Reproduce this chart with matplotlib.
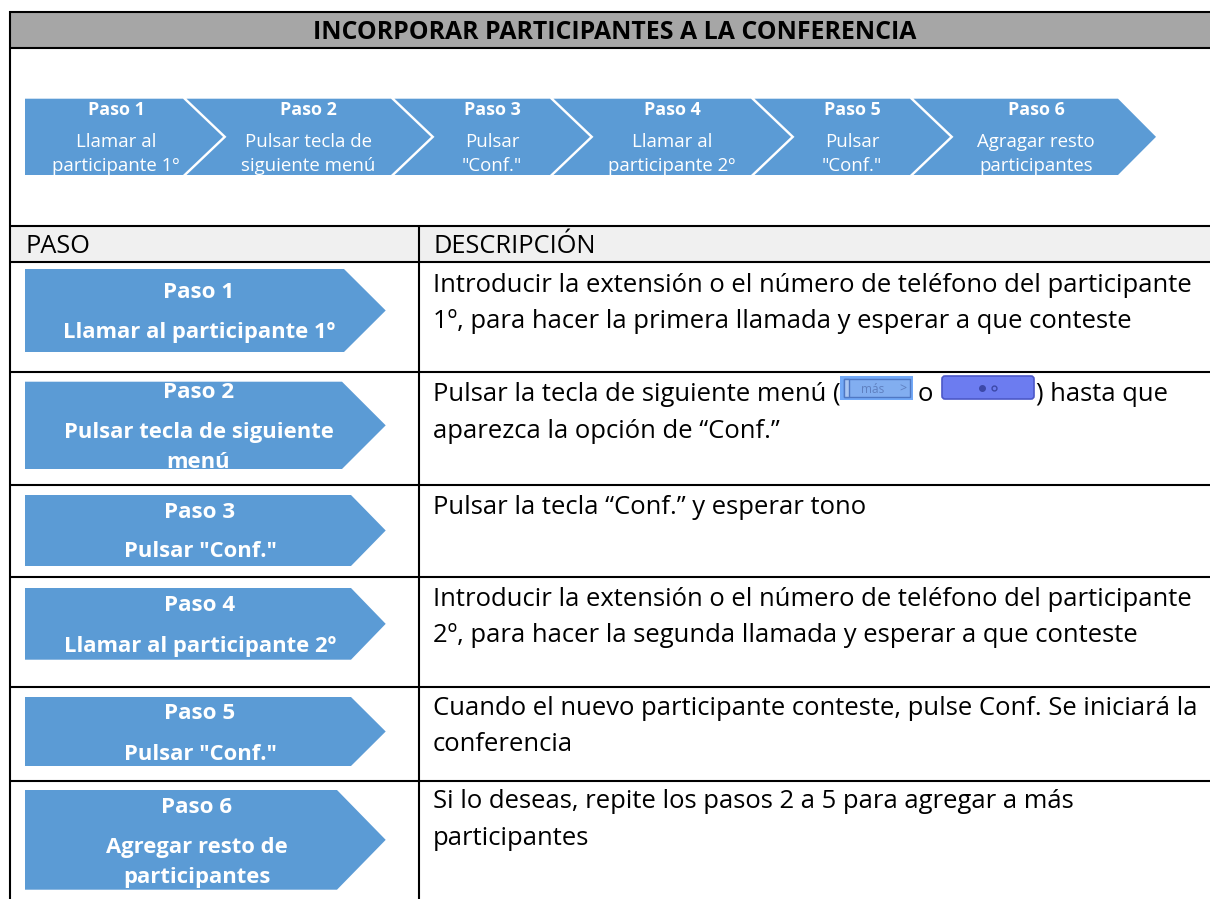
import matplotlib
matplotlib.use("Agg")
import matplotlib.pyplot as plt
from matplotlib.patches import Polygon, Rectangle, FancyBboxPatch

plt.rcParams['font.family'] = ['Open Sans', 'DejaVu Sans']

TITLE = "INCORPORAR PARTICIPANTES A LA CONFERENCIA"
HEAD_LEFT = "PASO"
HEAD_RIGHT = "DESCRIPCIÓN"
STEP_TITLES = ["Paso 1", "Paso 2", "Paso 3", "Paso 4", "Paso 5", "Paso 6"]
TOP_TEXTS = [["Llamar al", "participante 1º"], ["Pulsar tecla de", "siguiente menú"],
             ["Pulsar", "\"Conf.\""], ["Llamar al", "participante 2º"],
             ["Pulsar", "\"Conf.\""], ["Agragar resto", "participantes"]]
ROW_TEXTS = [["Llamar al participante 1º"], ["Pulsar tecla de siguiente", "menú"],
             ["Pulsar \"Conf.\""], ["Llamar al participante 2º"],
             ["Pulsar \"Conf.\""], ["Agregar resto de", "participantes"]]
DESCRIPTIONS = [
    ["Introducir la extensión o el número de teléfono del participante",
     "1º, para hacer la primera llamada y esperar a que conteste"],
    ["Pulsar la tecla de siguiente menú (", "aparezca la opción de “Conf.”"],
    ["Pulsar la tecla “Conf.” y esperar tono"],
    ["Introducir la extensión o el número de teléfono del participante",
     "2º, para hacer la segunda llamada y esperar a que conteste"],
    ["Cuando el nuevo participante conteste, pulse Conf. Se iniciará la",
     "conferencia"],
    ["Si lo deseas, repite los pasos 2 a 5 para agregar a más",
     "participantes"],
]

# layout (pixels)
W, H = 1210, 899
BLUE = "#5b9bd5"
LEFT, COL = 10, 419
HLINES = [11.5, 48, 226, 262, 372, 485, 577, 686.5, 781]
TOP_Y0, TOP_Y1 = 98.7, 175
TOP_SHOULDER = [183, 391, 550, 751, 910, 1118]
TOP_TIP = [223, 431, 590, 791, 950, 1156]
TOP_CX = [116, 308.5, 492, 672, 852, 1036]
ROW_Y0 = [269, 381.7, 495, 588, 697, 790]
ROW_Y1 = [352, 469, 566, 659.7, 766, 889.7]
ROW_SHOULDER = [344, 342, 351, 351, 351, 337]
ROW_CX = [199, 198.5, 200, 200, 200, 197]
ROW_BASE = [[298, 338], [398, 438, 468], [518, 557], [611, 652], [719, 760], [813, 853, 883]]
DESC_BASE = [[292, 328], [401, 438], [514], [606, 642], [715, 751], [808, 845]]

FS_TITLE, FS_HEAD, FS_DESC = 17.9, 18.3, 18.45
FS_TOP_B, FS_TOP = 12.9, 13.45
FS_ROW_B, FS_ROW = 16.1, 15.8

fig = plt.figure(figsize=(W / 100, H / 100), dpi=100, facecolor="white")
ax = fig.add_axes([0, 0, 1, 1])
ax.set_xlim(0, W)
ax.set_ylim(H, 0)
ax.axis("off")

ax.add_patch(Rectangle((LEFT, 11.5), W - LEFT, 36.5, fc="#a6a6a6", ec="none"))
ax.add_patch(Rectangle((LEFT, 226), W - LEFT, 36, fc="#f0f0f0", ec="none"))
for y in HLINES:
    ax.plot([LEFT - 1, W], [y, y], color="black", lw=1.5, solid_capstyle="butt", zorder=5)
ax.plot([LEFT, LEFT], [10.5, H], color="black", lw=1.5, solid_capstyle="butt", zorder=5)
ax.plot([COL, COL], [226, H], color="black", lw=1.5, solid_capstyle="butt", zorder=5)

ax.text(614.5, 39, TITLE, ha="center", va="baseline", fontsize=FS_TITLE, fontweight="bold", color="black")
ax.text(25, 253, HEAD_LEFT, ha="left", va="baseline", fontsize=FS_HEAD, color="black")
ax.text(433, 253, HEAD_RIGHT, ha="left", va="baseline", fontsize=FS_HEAD, color="black")

# top chevrons
mid = (TOP_Y0 + TOP_Y1) / 2
for i in range(6):
    if i == 0:
        pts = [(25, TOP_Y0), (TOP_SHOULDER[0], TOP_Y0), (TOP_TIP[0], mid), (TOP_SHOULDER[0], TOP_Y1), (25, TOP_Y1)]
    else:
        s0, t0 = TOP_SHOULDER[i - 1] + 3.5, TOP_TIP[i - 1] + 3.5
        pts = [(s0, TOP_Y0), (TOP_SHOULDER[i], TOP_Y0), (TOP_TIP[i], mid), (TOP_SHOULDER[i], TOP_Y1), (s0, TOP_Y1), (t0, mid)]
    p = Polygon(pts, closed=True, fc=BLUE, ec="none", zorder=2)
    ax.add_patch(p)
    t = ax.text(TOP_CX[i], 115, STEP_TITLES[i], ha="center", va="baseline", fontsize=FS_TOP_B,
                fontweight="bold", color="white", zorder=3)
    t1 = ax.text(TOP_CX[i], 147, TOP_TEXTS[i][0], ha="center", va="baseline", fontsize=FS_TOP, color="white", zorder=3)
    t2 = ax.text(TOP_CX[i], 171, TOP_TEXTS[i][1], ha="center", va="baseline", fontsize=FS_TOP, color="white", zorder=3)
    band = Rectangle((0, TOP_Y0), W, TOP_Y1 - TOP_Y0, transform=ax.transData)
    for tt in (t, t1, t2):
        tt.set_clip_path(band)

# row arrows
for i in range(6):
    y0, y1 = ROW_Y0[i], ROW_Y1[i]
    p = Polygon([(25, y0), (ROW_SHOULDER[i], y0), (385.7, (y0 + y1) / 2), (ROW_SHOULDER[i], y1), (25, y1)],
                closed=True, fc=BLUE, ec="none", zorder=2)
    ax.add_patch(p)
    lines = [STEP_TITLES[i]] + ROW_TEXTS[i]
    for line, yb in zip(lines, ROW_BASE[i]):
        tt = ax.text(ROW_CX[i], yb, line, ha="center", va="baseline", fontsize=FS_ROW_B if line.startswith("Paso") else FS_ROW,
                     fontweight="bold", color="white", zorder=3)
        tt.set_clip_path(p)

# descriptions
for lines, bases in zip(DESCRIPTIONS, DESC_BASE):
    for line, yb in zip(lines, bases):
        ax.text(433, yb, line, ha="left", va="baseline", fontsize=FS_DESC, color="black")

# inline key images and the rest of the line
ax.add_patch(Rectangle((840, 376), 72.5, 24, fc="#72a9f7", ec="none", zorder=2))
ax.add_patch(Rectangle((844, 379), 66, 18, fc="#82aef0", ec="#4f78c4", lw=1, zorder=3))
ax.add_patch(Rectangle((844, 379), 5, 18, fc="#a9c6f2", ec="#4f78c4", lw=1, zorder=3))
ax.text(873, 393, "más", ha="center", va="baseline", fontsize=8.5, color="#5f80c0", zorder=4)
ax.text(903, 393, ">", ha="center", va="baseline", fontsize=9, color="#5f80c0", zorder=4)
ax.text(918, 401, "o", ha="left", va="baseline", fontsize=FS_DESC, color="black")
ax.add_patch(FancyBboxPatch((942, 376), 92, 23, boxstyle="round,pad=0,rounding_size=3",
                            fc="#6c7cf0", ec="#4c58c8", lw=1.2, zorder=2))
ax.plot([981.5], [387.5], marker="o", ms=4, color="#3c48a8", zorder=3, ls="none")
ax.plot([993.5], [387.5], marker="o", ms=3.5, mfc="none", mec="#3c48a8", zorder=3, ls="none")
ax.text(1036, 401, ") hasta que", ha="left", va="baseline", fontsize=FS_DESC, color="black")

fig.savefig("out.png", dpi=100, facecolor="white")
